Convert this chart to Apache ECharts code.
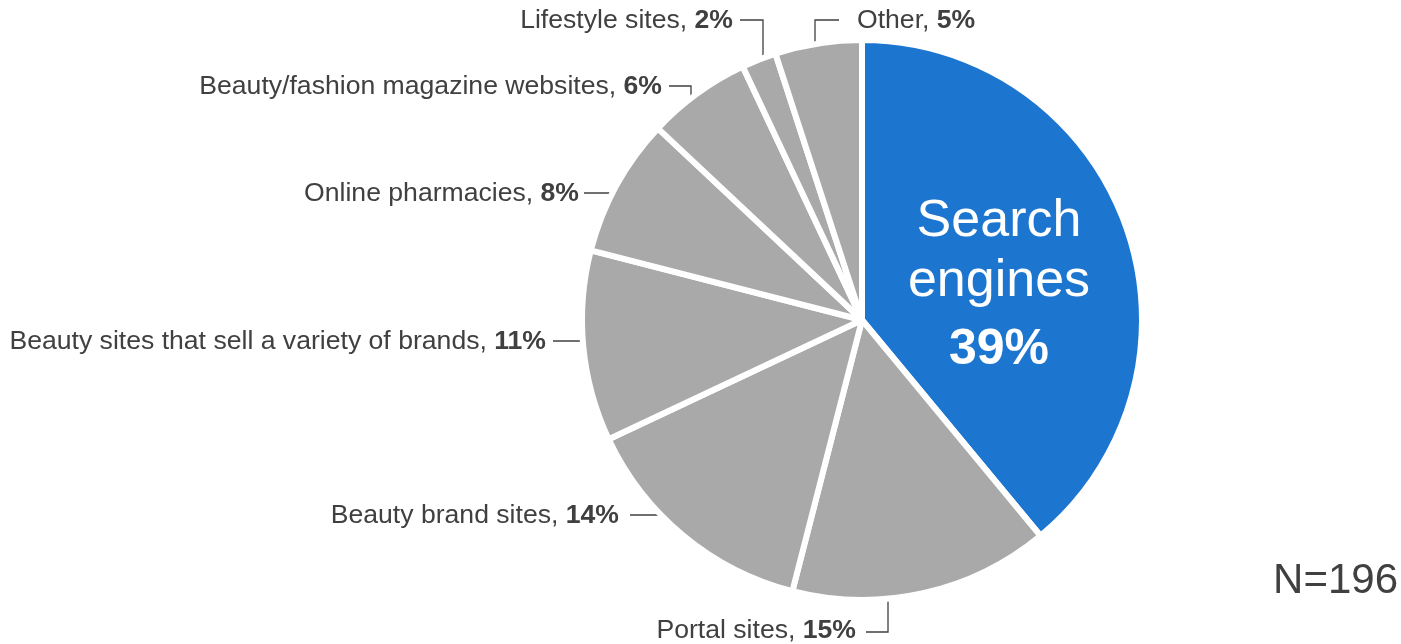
<!DOCTYPE html>
<html>
<head>
<meta charset="utf-8">
<script src="https://cdn.jsdelivr.net/npm/echarts@6/dist/echarts.min.js"></script>
<style>
  html, body { margin: 0; padding: 0; background: #fff; }
  #chart { width: 1401px; height: 644px; }
</style>
</head>
<body>
<div id="chart"></div>
<script>
// Where respondents look for beauty product information online (share of answers)
const categories = [
  'Search engines',
  'Portal sites',
  'Beauty brand sites',
  'Beauty sites that sell a variety of brands',
  'Online pharmacies',
  'Beauty/fashion magazine websites',
  'Lifestyle sites',
  'Other'
];
const shares = [39, 15, 14, 11, 8, 6, 2, 5];
const sampleNote = 'N=196';

const FONT = '"Liberation Sans", Arial, Helvetica, sans-serif';
const TEXT = '#404040';
const BLUE = '#1c75cf';
const GREY = '#a9a9a9';

// Label anchor + leader line for each slice (text edge x, text middle y, elbow points)
const labelPlacement = [
  { x: 999, y: 290, align: 'center' },
  { x: 856, y: 631, align: 'right', line: [[866, 632], [888, 632], [888, 597]] },
  { x: 619, y: 516, align: 'right', line: [[630, 515], [664, 515]] },
  { x: 546, y: 342, align: 'right', line: [[553, 341], [588, 341]] },
  { x: 579, y: 194, align: 'right', line: [[584, 193], [618, 193]] },
  { x: 662, y: 87, align: 'right', line: [[669, 86], [691, 86], [691, 106]] },
  { x: 733, y: 21, align: 'right', line: [[740, 20], [763, 20], [763, 63]] },
  { x: 857, y: 21, align: 'left', line: [[839, 20], [815, 20], [815, 50]] }
];

const chart = echarts.init(document.getElementById('chart'), null, { renderer: 'canvas' });

const pieData = categories.map(function (name, i) {
  const item = {
    name: name,
    value: shares[i],
    itemStyle: { color: i === 0 ? BLUE : GREY }
  };
  if (i === 0) {
    item.label = {
      position: 'inside',
      formatter: '{t|Search}\n{t|engines}\n{p|{c}%}',
      rich: {
        t: { fontFamily: FONT, fontSize: 52, color: '#ffffff', lineHeight: 60, align: 'center' },
        p: { fontFamily: FONT, fontSize: 50, fontWeight: 'bold', color: '#ffffff', lineHeight: 76, align: 'center' }
      }
    };
    item.labelLine = { show: false };
  }
  return item;
});

chart.setOption({
  backgroundColor: '#ffffff',
  animation: false,
  title: {
    text: sampleNote,
    right: 3,
    top: 560,
    padding: 0,
    textStyle: { fontFamily: FONT, fontSize: 42, fontWeight: 'normal', color: TEXT }
  },
  series: [{
    type: 'pie',
    center: [862, 320],
    radius: [0, 280],
    startAngle: 90,
    clockwise: true,
    avoidLabelOverlap: false,
    itemStyle: { borderColor: '#ffffff', borderWidth: 6 },
    label: {
      show: true,
      position: 'outside',
      formatter: '{n|{b}, }{v|{c}%}',
      rich: {
        n: { fontFamily: FONT, fontSize: 26.6, color: TEXT },
        v: { fontFamily: FONT, fontSize: 26.6, fontWeight: 'bold', color: TEXT }
      }
    },
    labelLine: {
      show: true,
      length: 10,
      length2: 10,
      smooth: false,
      lineStyle: { color: '#404040', width: 1.3 }
    },
    labelLayout: function (p) {
      const s = labelPlacement[p.dataIndex];
      if (!s) return {};
      const out = { x: s.x, y: s.y, align: s.align, verticalAlign: 'middle' };
      if (s.line) out.labelLinePoints = s.line;
      return out;
    },
    emphasis: { disabled: true },
    data: pieData
  }]
});
</script>
</body>
</html>
